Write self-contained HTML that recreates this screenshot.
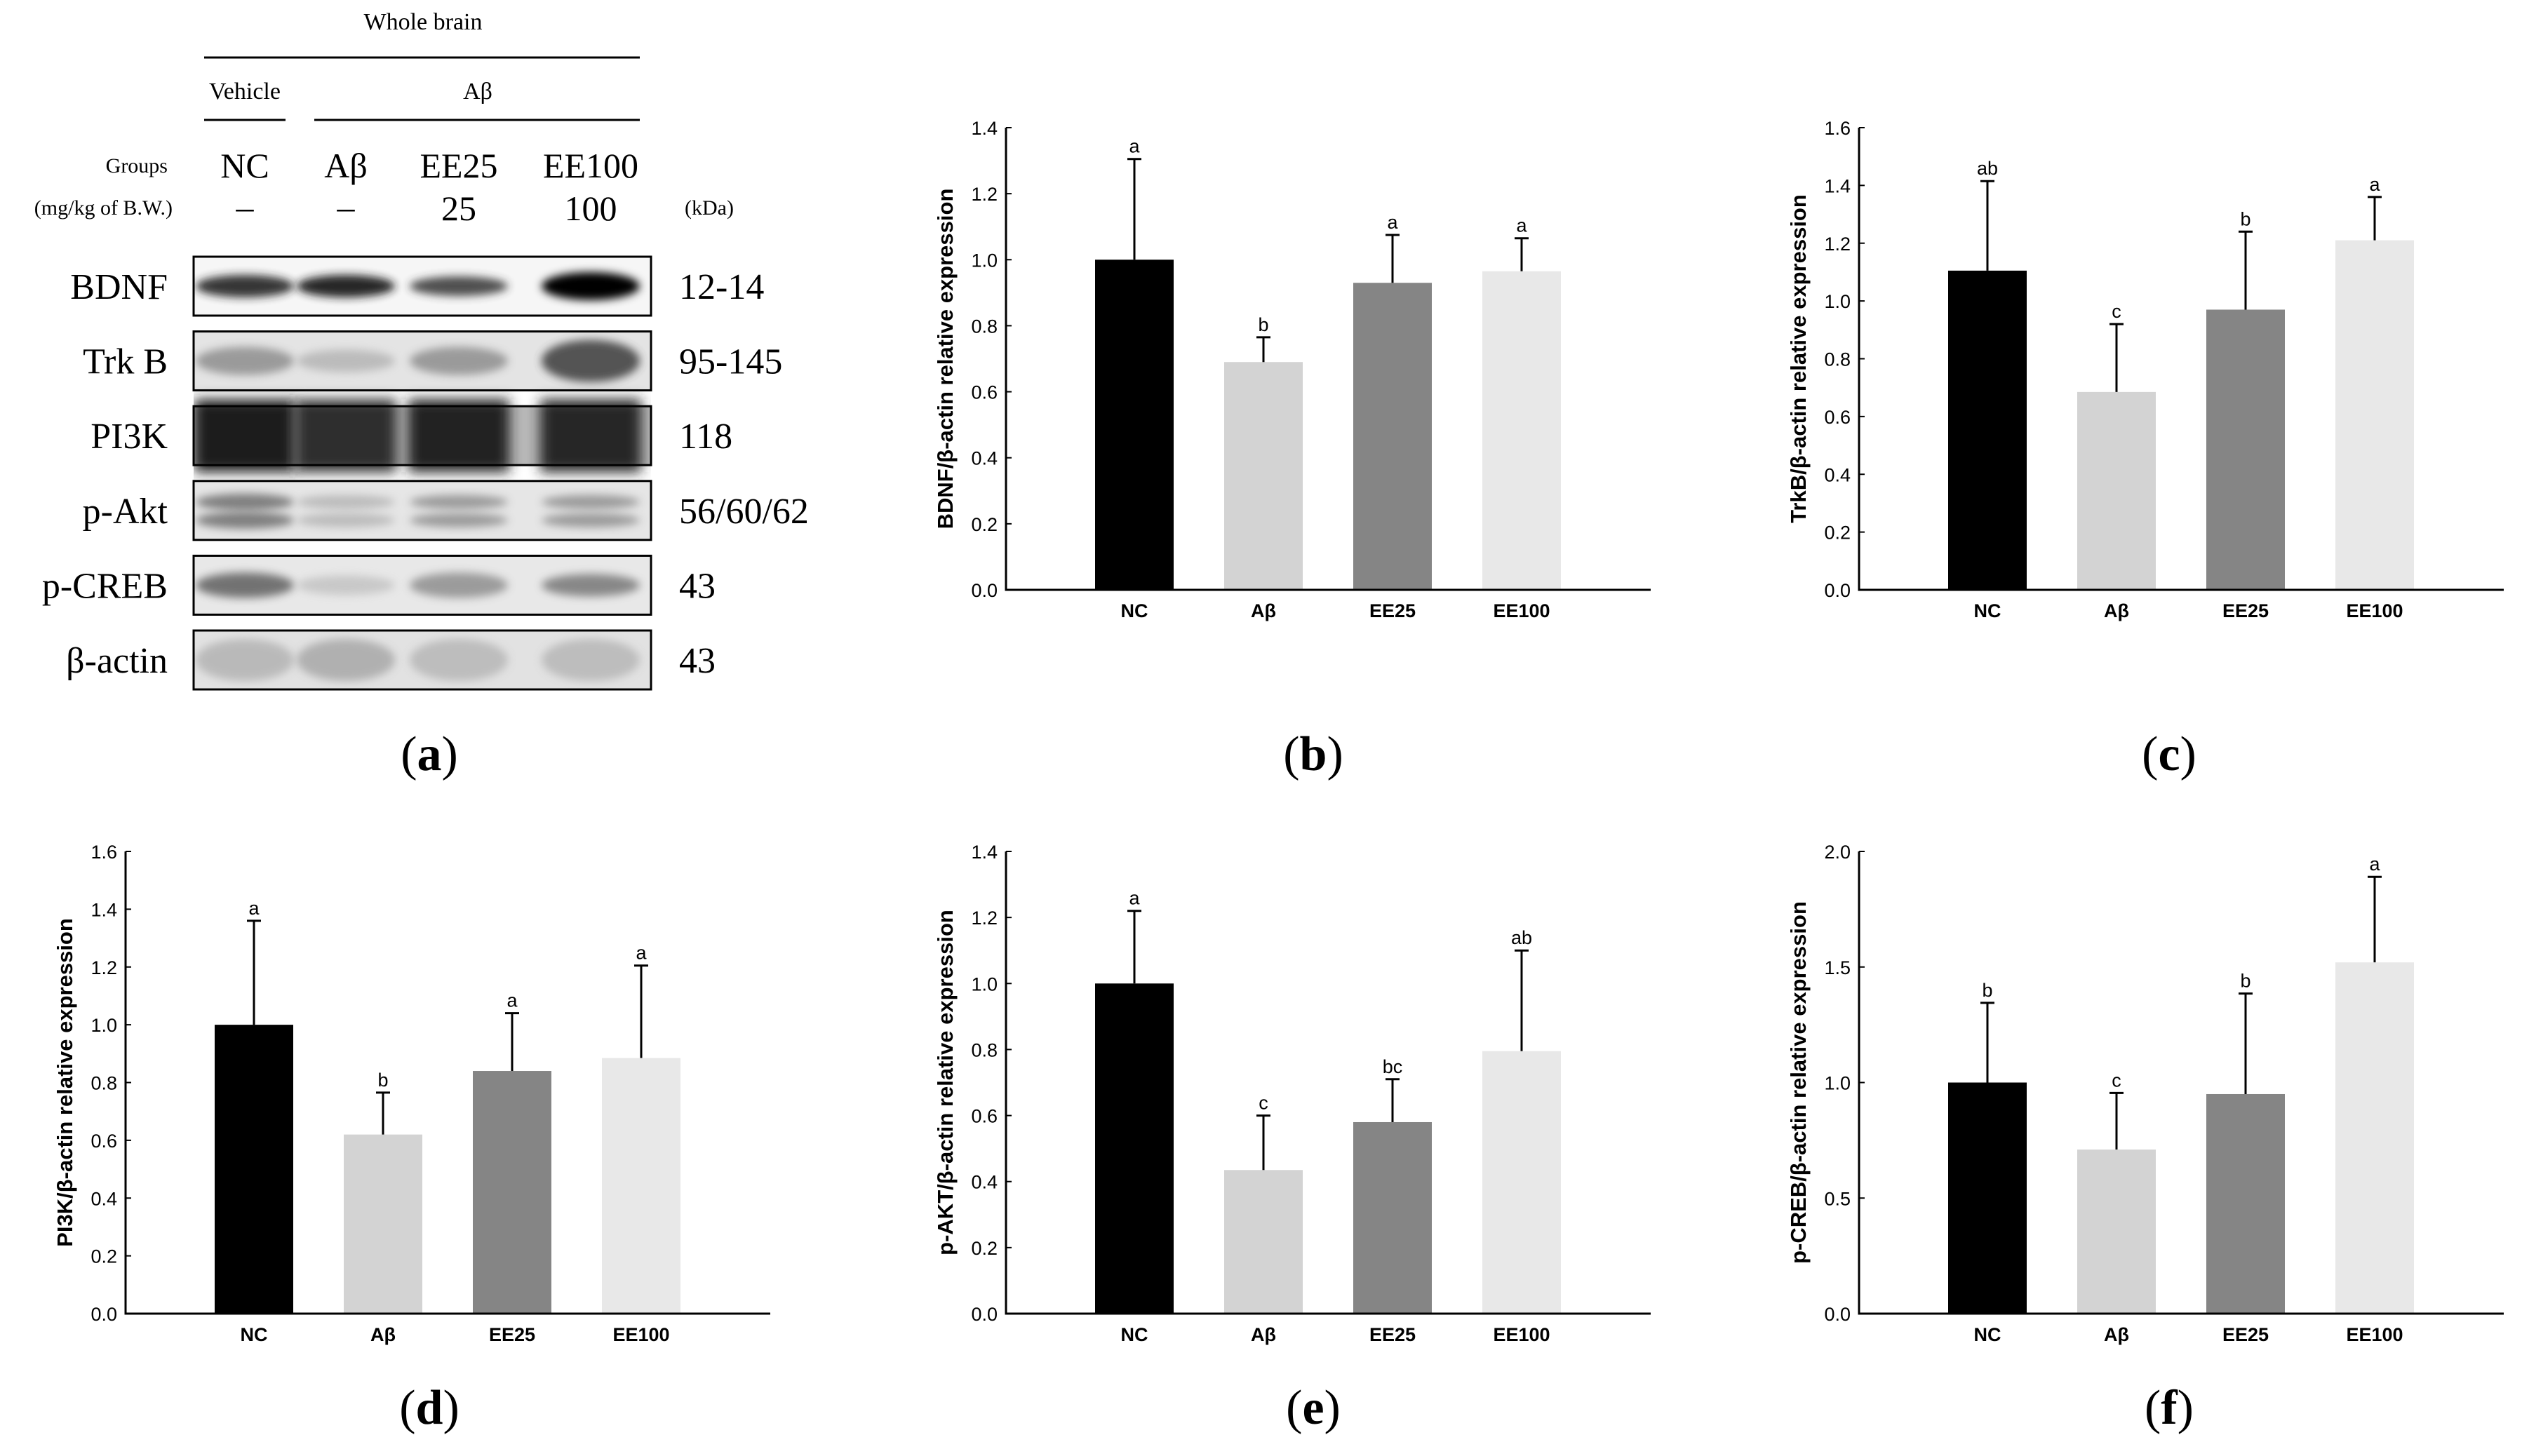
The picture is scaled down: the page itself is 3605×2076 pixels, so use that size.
<!DOCTYPE html>
<html><head><meta charset="utf-8">
<style>
html,body{margin:0;padding:0;background:#fff;}
svg{display:block;}
.serif{font-family:"Liberation Serif",serif;}
.sans{font-family:"Liberation Sans",sans-serif;}
</style></head>
<body>
<svg id="fig" width="3605" height="2076" viewBox="0 0 3605 2076" xmlns="http://www.w3.org/2000/svg">
<defs>
<filter id="blur6" x="-50%" y="-50%" width="200%" height="200%"><feGaussianBlur stdDeviation="6"/></filter>
<filter id="blur12" x="-50%" y="-50%" width="200%" height="200%"><feGaussianBlur stdDeviation="9"/></filter>
<clipPath id="clipBlot"><rect x="276" y="0" width="652" height="2076"/></clipPath>
</defs>
<g id="panelA" class="serif" fill="#000">
<text x="603" y="42" font-size="34" text-anchor="middle">Whole brain</text>
<line x1="291" y1="82" x2="912" y2="82" stroke="#000" stroke-width="3"/>
<text x="349" y="141" font-size="34" text-anchor="middle">Vehicle</text>
<text x="681" y="141" font-size="34" text-anchor="middle">Aβ</text>
<line x1="291" y1="171" x2="407" y2="171" stroke="#000" stroke-width="3"/>
<line x1="448" y1="171" x2="912" y2="171" stroke="#000" stroke-width="3"/>
<text x="239" y="246" font-size="30" text-anchor="end">Groups</text>
<text x="349" y="253" font-size="50" text-anchor="middle">NC</text>
<text x="493" y="253" font-size="50" text-anchor="middle">Aβ</text>
<text x="654" y="253" font-size="50" text-anchor="middle">EE25</text>
<text x="842" y="253" font-size="50" text-anchor="middle">EE100</text>
<text x="246" y="306" font-size="30" text-anchor="end">(mg/kg of B.W.)</text>
<text x="349" y="312" font-size="50" text-anchor="middle">–</text>
<text x="493" y="312" font-size="50" text-anchor="middle">–</text>
<text x="654" y="314" font-size="50" text-anchor="middle">25</text>
<text x="842" y="314" font-size="50" text-anchor="middle">100</text>
<text x="976" y="306" font-size="30">(kDa)</text>
<g id="blots"></g>
<text x="612" y="1098" font-size="70" text-anchor="middle">(<tspan font-weight="bold">a</tspan>)</text>
</g>
<g id="charts"></g>
</svg>
<script>
const NS = "http://www.w3.org/2000/svg";
function mk(tag, attrs, parent){ const e=document.createElementNS(NS,tag); for(const k in attrs) e.setAttribute(k,attrs[k]); parent.appendChild(e); return e; }

// ---- Western blot ----
const blotNames = ["BDNF","Trk B","PI3K","p-Akt","p-CREB","β-actin"];
const blotKda = ["12-14","95-145","118","56/60/62","43","43"];
const laneX = [349,493,654,842];
const blotG = document.getElementById('blots');
const blotStyles = [
 {bg:"#f6f6f6", bands:[[0,"#222",16,0.9],[0,"#1c1c1c",16,0.95],[0,"#333",14,0.85],[0,"#000",20,1]]},
 {bg:"#e4e4e4", bands:[[0,"#888",20,0.8],[0,"#aaa",16,0.7],[0,"#888",20,0.8],[0,"#444",30,0.9]]},
 {bg:"#b8b8b8", bands:[[0,"#1a1a1a",70,1],[0,"#2e2e2e",70,1],[0,"#222",70,1],[0,"#262626",70,1]]},
 {bg:"#e6e6e6", bands:[[-12,"#666",12,0.8],[-12,"#aaa",10,0.7],[-12,"#888",10,0.8],[-12,"#888",10,0.8]]},
 {bg:"#e8e8e8", bands:[[0,"#666",18,0.9],[0,"#bbb",14,0.7],[0,"#888",18,0.8],[0,"#777",16,0.85]]},
 {bg:"#e2e2e2", bands:[[0,"#b0b0b0",30,0.8],[0,"#a4a4a4",30,0.8],[0,"#b4b4b4",30,0.8],[0,"#b4b4b4",30,0.8]]}
];
for(let r=0;r<blotNames.length;r++){
  const y0 = 366 + r*106.6, h=84, cy=y0+h/2;
  const row = mk('g',{},blotG);
  
  
  const bgR = mk('rect',{x:276,y:y0,width:652,height:h,fill:blotStyles[r].bg},row);
  
  
  const bandG = mk('g',{'clip-path':'url(#clipBlot)'},row);
  blotStyles[r].bands.forEach((b,i)=>{
    let e;
    if(r==2){
      e = mk('rect',{x:laneX[i]-72,y:y0-10,width:144,height:h+20,fill:b[1],opacity:b[3],filter:'url(#blur12)'},bandG);
    } else {
      e = mk('ellipse',{cx:laneX[i],cy:cy+b[0],rx:70,ry:b[2],fill:b[1],opacity:b[3],filter:'url(#blur6)'},bandG);
    }
    
    
    if(r==3){
      const e2 = mk('ellipse',{cx:laneX[i],cy:cy+14,rx:70,ry:b[2],fill:b[1],opacity:b[3],filter:'url(#blur6)'},bandG);
      
      
    }
  });
  const fr = mk('rect',{x:276,y:y0,width:652,height:h,fill:'none',stroke:'#000','stroke-width':3},row);
  
  
  const lt = mk('text',{x:239,y:cy+18,'font-size':52,'text-anchor':'end'},row);
  lt.textContent = blotNames[r];
  
  
  const kt = mk('text',{x:968,y:cy+18,'font-size':52},row);
  kt.textContent = blotKda[r];
  
  
}

// ---- Bar charts data ----
const categories = ["NC","Aβ","EE25","EE100"];
const barColors = ["#000000","#d3d3d3","#858585","#e8e8e8"];
const bdnfValues = [1.0,0.69,0.93,0.965];
const bdnfErrors = [0.305,0.075,0.145,0.10];
const bdnfLetters = ["a","b","a","a"];
const trkbValues = [1.105,0.685,0.97,1.21];
const trkbErrors = [0.31,0.235,0.27,0.15];
const trkbLetters = ["ab","c","b","a"];
const pi3kValues = [1.0,0.62,0.84,0.885];
const pi3kErrors = [0.36,0.145,0.2,0.32];
const pi3kLetters = ["a","b","a","a"];
const paktValues = [1.0,0.435,0.58,0.795];
const paktErrors = [0.22,0.165,0.13,0.305];
const paktLetters = ["a","c","bc","ab"];
const pcrebValues = [1.0,0.71,0.95,1.52];
const pcrebErrors = [0.345,0.245,0.435,0.37];
const pcrebLetters = ["b","c","b","a"];
const ticks14 = ["0.0","0.2","0.4","0.6","0.8","1.0","1.2","1.4"];
const ticks16 = ["0.0","0.2","0.4","0.6","0.8","1.0","1.2","1.4","1.6"];
const ticks20 = ["0.0","0.5","1.0","1.5","2.0"];

const panels = [
 {id:'b',ax:1434,y0:841,y1:182,ticks:ticks14,vals:bdnfValues,errs:bdnfErrors,lets:bdnfLetters,title:"BDNF/β-actin relative expression",lx:1872,ly:1098},
 {id:'c',ax:2650,y0:841,y1:182,ticks:ticks16,vals:trkbValues,errs:trkbErrors,lets:trkbLetters,title:"TrkB/β-actin relative expression",lx:3092,ly:1098},
 {id:'d',ax:179,y0:1873,y1:1214,ticks:ticks16,vals:pi3kValues,errs:pi3kErrors,lets:pi3kLetters,title:"PI3K/β-actin relative expression",lx:612,ly:2030},
 {id:'e',ax:1434,y0:1873,y1:1214,ticks:ticks14,vals:paktValues,errs:paktErrors,lets:paktLetters,title:"p-AKT/β-actin relative expression",lx:1872,ly:2030},
 {id:'f',ax:2650,y0:1873,y1:1214,ticks:ticks20,vals:pcrebValues,errs:pcrebErrors,lets:pcrebLetters,title:"p-CREB/β-actin relative expression",lx:3092,ly:2030}
];
const charts = document.getElementById('charts');
panels.forEach(p=>{
  const g = mk('g',{},charts);
  
  
  const ymax = parseFloat(p.ticks[p.ticks.length-1]);
  const yS = v => p.y0 - (v/ymax)*(p.y0-p.y1);
  const xC = i => p.ax + 183 + i*184;
  p.vals.forEach((v,i)=>{
    const b = mk('rect',{x:xC(i)-56,y:yS(v),width:112,height:p.y0-yS(v),fill:barColors[i]},g);
    
    
    const top = yS(v+p.errs[i]);
    const el = mk('path',{d:`M${xC(i)} ${yS(v)} V${top} M${xC(i)-10} ${top} H${xC(i)+10}`,stroke:'#000','stroke-width':3,fill:'none'},g);
    
    
    const lt = mk('text',{x:xC(i),y:top-9,'font-size':27,'text-anchor':'middle',class:'sans'},g);
    lt.textContent = p.lets[i];
    
    
    const ct = mk('text',{x:xC(i),y:p.y0+39,'font-size':27,'font-weight':'bold','text-anchor':'middle',class:'sans'},g);
    ct.textContent = categories[i];
    
    
  });
  const ya = mk('line',{x1:p.ax,y1:p.y1,x2:p.ax,y2:p.y0+1.5,stroke:'#000','stroke-width':3},g);
  
  
  const xa = mk('line',{x1:p.ax-1.5,y1:p.y0,x2:p.ax+919,y2:p.y0,stroke:'#000','stroke-width':3},g);
  
  
  p.ticks.forEach(t=>{
    const y = yS(parseFloat(t));
    const tk = mk('line',{x1:p.ax,y1:y,x2:p.ax+8,y2:y,stroke:'#000','stroke-width':2},g);
    
    
    const tl = mk('text',{x:p.ax-12,y:y+10,'font-size':27,'text-anchor':'end',class:'sans'},g);
    tl.textContent = t;
    
    
  });
  const ty = (p.y0+p.y1)/2;
  const tt = mk('text',{x:p.ax-76,y:ty,'font-size':31,'font-weight':'bold','text-anchor':'middle',class:'sans',transform:`rotate(-90 ${p.ax-76} ${ty})`},g);
  tt.textContent = p.title;
  
  
  const pl = mk('text',{x:p.lx,y:p.ly,'font-size':70,'text-anchor':'middle',class:'serif'},g);
  pl.textContent = '(';
  const ts = mk('tspan',{'font-weight':'bold'},pl);
  ts.textContent = p.id;
  const ts2 = mk('tspan',{},pl);
  ts2.textContent = ')';
  
  
});
</script>
</body></html>
